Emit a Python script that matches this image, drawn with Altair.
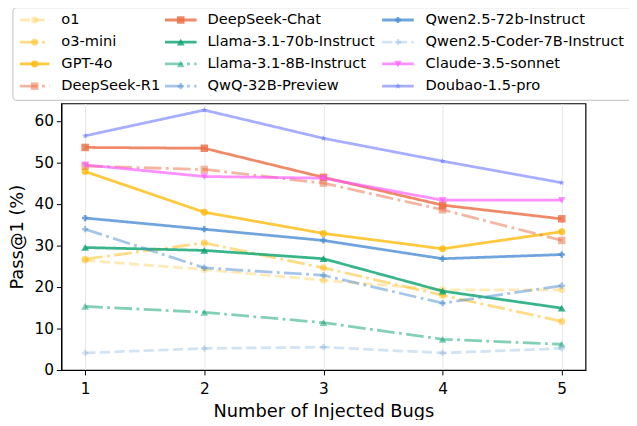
import math
import altair as alt
import pandas as pd

# ---------------- data ----------------
bugs = [1, 2, 3, 4, 5]
names = [
    "o1", "o3-mini", "GPT-4o", "DeepSeek-R1",
    "DeepSeek-Chat", "Llama-3.1-70b-Instruct", "Llama-3.1-8B-Instruct", "QwQ-32B-Preview",
    "Qwen2.5-72b-Instruct", "Qwen2.5-Coder-7B-Instruct", "Claude-3.5-sonnet", "Doubao-1.5-pro",
]
o1 = [26.4, 24.2, 21.6, 19.3, 19.3]
o3_mini = [26.7, 30.6, 24.6, 18.0, 11.7]
gpt_4o = [47.8, 38.0, 32.9, 29.2, 33.3]
deepseek_r1 = [49.1, 48.3, 45.0, 38.6, 31.2]
deepseek_chat = [53.6, 53.4, 46.4, 39.7, 36.4]
llama_70b = [29.5, 28.8, 26.8, 19.0, 14.9]
llama_8b = [15.3, 13.9, 11.4, 7.4, 6.2]
qwq_32b = [33.9, 24.6, 22.8, 16.1, 20.3]
qwen_72b = [36.6, 33.9, 31.2, 26.8, 27.8]
qwen_coder_7b = [4.1, 5.2, 5.5, 4.1, 5.2]
claude = [49.4, 46.6, 46.2, 40.9, 40.9]
doubao = [56.4, 62.6, 55.8, 50.3, 45.1]
series_values = [o1, o3_mini, gpt_4o, deepseek_r1, deepseek_chat, llama_70b,
                 llama_8b, qwq_32b, qwen_72b, qwen_coder_7b, claude, doubao]

# ---------------- styles ----------------
YEL, ORA, GRN, BLU = "#FFBA0C", "#EB6D44", "#09A26E", "#4B8ED3"
colors = [YEL, YEL, YEL, ORA, ORA, GRN, GRN, BLU, BLU, BLU, "#FF55FF", "#6B78FF"]
alphas = [0.3, 0.5, 0.8, 0.5, 0.8, 0.8, 0.5, 0.5, 0.8, 0.25, 0.65, 0.6]
LW = 2.8
SOLID = [1, 0]
DASH = [3.7 * LW, 1.6 * LW]
DASHDOT = [6.4 * LW, 1.6 * LW, 1.0 * LW, 1.6 * LW]
dashes = [DASH, DASHDOT, SOLID, DASHDOT, SOLID, SOLID, DASHDOT, DASHDOT, SOLID, DASH, SOLID, SOLID]

pts = []
for i in range(10):
    r = 1.0 if i % 2 == 0 else 0.4
    a = math.radians(-90 + 36 * i)
    pts.append((r * math.cos(a), r * math.sin(a)))
STAR = "M" + " L".join(f"{x:.3f},{y:.3f}" for x, y in pts) + " Z"
shapes = ["circle", "circle", "circle", "square", "square", "triangle-up", "triangle-up",
          "cross", "cross", "cross", "triangle-down", STAR]
sizes = [50, 50, 50, 58, 58, 62, 62, 40, 40, 40, 58, 45]

# ---------------- layout (pixels inside the plot frame) ----------------
W, H = 531, 270
OX, OY = 62, 102  # page position of plot origin
line_start = [20, 167, 387]
line_end = [50, 199, 419]
marker_x = [35, 183, 403]
text_x = [62, 210, 431]
row_y = [17.5, 40, 62, 84.5]

# ---------------- scales ----------------
xs = alt.Scale(domain=[0.8, 5.2], nice=False, zero=False)
ys = alt.Scale(domain=[0, 64.2], nice=False, zero=False)
px = alt.Scale(domain=[0, W], nice=False, zero=False)
py = alt.Scale(domain=[0, H], nice=False, zero=False, reverse=True)

box = pd.DataFrame({"bx1": [13 - OX], "bx2": [640 - OX], "by1": [5 - OY], "by2": [99 - OY]})
layers = [
    alt.Chart(box).mark_rect(fill="white", stroke="#cccccc", strokeWidth=1.2,
                             cornerRadius=4).encode(
        x=alt.X("bx1:Q", scale=px, axis=None), x2="bx2:Q",
        y=alt.Y("by1:Q", scale=py, axis=None), y2="by2:Q")
]

# axis carrier layer (draws frame axes + x grid)
axis_df = pd.DataFrame({"bugs": bugs, "value": o1})
layers.append(
    alt.Chart(axis_df).mark_point(opacity=0).encode(
        x=alt.X("bugs:Q", scale=xs, title="Number of Injected Bugs",
                axis=alt.Axis(values=bugs, format="d", grid=True, gridColor="#e7e7e7",
                              gridWidth=1, labelPadding=7, titlePadding=6)),
        y=alt.Y("value:Q", scale=ys, title="Pass@1 (%)",
                axis=alt.Axis(values=[0, 10, 20, 30, 40, 50, 60], grid=False,
                              labelPadding=3, titlePadding=8)))
)

for i, (n, vals) in enumerate(zip(names, series_values)):
    d = pd.DataFrame({"bugs": bugs, "value": vals, "series": n})
    base = alt.Chart(d).encode(
        x=alt.X("bugs:Q", scale=xs, axis=None),
        y=alt.Y("value:Q", scale=ys, axis=None))
    layers.append(base.mark_line(strokeWidth=LW, color=colors[i], opacity=alphas[i],
                                 strokeDash=dashes[i]))
    layers.append(base.mark_point(filled=True, color=colors[i], opacity=alphas[i],
                                  shape=shapes[i], size=sizes[i]))

for i, n in enumerate(names):
    c, r = i // 4, i % 4
    ld = pd.DataFrame({"series": [n], "lx1": [line_start[c] - OX], "lx2": [line_end[c] - OX],
                       "lmx": [marker_x[c] - OX], "ltx": [text_x[c] - OX],
                       "ly": [row_y[r] - OY]})
    lb = alt.Chart(ld)
    layers.append(lb.mark_rule(strokeWidth=LW, color=colors[i], opacity=alphas[i],
                               strokeDash=dashes[i]).encode(
        x=alt.X("lx1:Q", scale=px, axis=None), x2="lx2:Q",
        y=alt.Y("ly:Q", scale=py, axis=None)))
    layers.append(lb.mark_point(filled=True, color=colors[i], opacity=alphas[i],
                                shape=shapes[i], size=sizes[i]).encode(
        x=alt.X("lmx:Q", scale=px, axis=None),
        y=alt.Y("ly:Q", scale=py, axis=None)))
    layers.append(lb.mark_text(align="left", baseline="middle", fontSize=14.8,
                               font="DejaVu Sans", color="black").encode(
        x=alt.X("ltx:Q", scale=px, axis=None),
        y=alt.Y("ly:Q", scale=py, axis=None),
        text="series:N"))

chart = alt.layer(*layers).resolve_scale(
    x="independent", y="independent"
).properties(
    width=W, height=H,
    padding={"left": 54, "top": 94, "right": 44, "bottom": 48},
    autosize=alt.AutoSizeParams(type="none"),
).configure_view(
    stroke="black", strokeWidth=1.2
).configure_axis(
    labelFont="DejaVu Sans", titleFont="DejaVu Sans",
    labelFontSize=15.5, titleFontSize=18, titleFontWeight="normal",
    labelColor="black", titleColor="black", tickColor="black", domainColor="black",
    tickSize=5, tickWidth=1, domainWidth=1.2,
)

chart.save("out.html", embed_options={"renderer": "svg", "actions": False})
